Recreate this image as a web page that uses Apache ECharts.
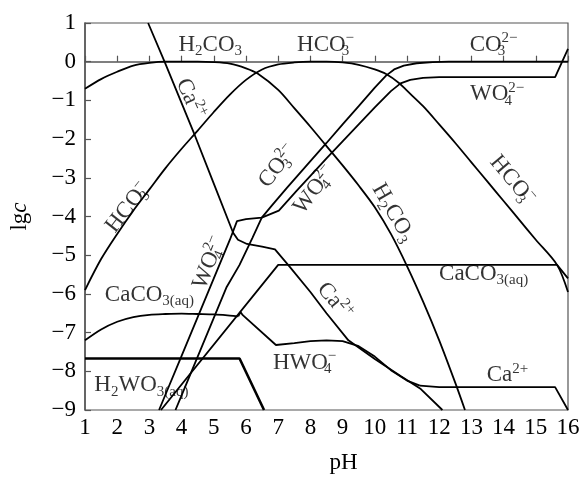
<!DOCTYPE html>
<html>
<head>
<meta charset="utf-8">
<script src="https://cdn.jsdelivr.net/npm/echarts@6/dist/echarts.min.js"></script>
<style>
  html, body { margin: 0; padding: 0; background: #fff; }
  #chart { width: 584px; height: 479px; }
</style>
</head>
<body>
<div id="chart"></div>
<script>
// Axis ticks
const phTicks = [1, 2, 3, 4, 5, 6, 7, 8, 9, 10, 11, 12, 13, 14, 15, 16];
const lgTicks = [-9, -8, -7, -6, -5, -4, -3, -2, -1, 0, 1];

// Species curves: [pH, lg c]
const h2co3 = [[1,-0.7],[1.5,-0.45],[2,-0.26],[2.5,-0.1],[3,-0.03],[3.5,0],[4.5,0],[5,-0.01],[5.5,-0.05],[6,-0.17],[6.35,-0.3],[7,-0.73],[7.5,-1.2],[8,-1.68],[8.5,-2.18],[9,-2.68],[9.5,-3.2],[10,-3.76],[10.5,-4.45],[11,-5.28],[11.5,-6.2],[12,-7.2],[12.5,-8.3],[12.8,-9]];
const hco3 = [[1,-5.9],[1.5,-5.1],[2,-4.45],[2.5,-3.85],[3,-3.3],[3.5,-2.75],[4,-2.25],[4.5,-1.78],[5,-1.3],[5.5,-0.85],[6,-0.47],[6.5,-0.2],[7,-0.07],[7.5,-0.02],[8,0],[8.5,0],[9,-0.02],[9.5,-0.08],[10,-0.2],[10.35,-0.32],[10.75,-0.55],[11,-0.75],[11.5,-1.15],[12,-1.62],[12.5,-2.1],[13,-2.6],[13.5,-3.1],[14,-3.6],[14.5,-4.1],[15,-4.6],[15.66,-5.25],[16,-5.95]];
const co3 = [[3.3,-9],[3.5,-8.6],[4,-7.6],[4.5,-6.6],[5,-5.6],[5.5,-4.6],[5.72,-4.12],[6,-4.07],[6.49,-4.03],[6.8,-3.72],[7.27,-3.26],[8,-2.57],[8.5,-2.1],[9,-1.62],[9.5,-1.15],[10,-0.67],[10.35,-0.36],[10.6,-0.2],[10.9,-0.1],[11.3,-0.04],[11.8,-0.01],[12.3,0],[16,0]];
const wo4 = [[3.81,-9],[4,-8.62],[4.5,-7.62],[5,-6.62],[5.4,-5.82],[5.8,-5.25],[6.2,-4.55],[6.49,-4.03],[7.02,-3.85],[7.57,-3.34],[8,-2.95],[8.5,-2.5],[9,-2.06],[9.5,-1.62],[10,-1.18],[10.5,-0.76],[10.8,-0.56],[11.1,-0.47],[11.5,-0.42],[12,-0.4],[15.6,-0.4],[16,0.33]];
const ca = [[2.96,1],[3.47,0],[4.4,-1.88],[5,-3.15],[5.6,-4.42],[5.75,-4.6],[6.03,-4.71],[6.5,-4.78],[6.9,-4.85],[7.36,-5.3],[8,-5.95],[8.5,-6.5],[9.18,-7.2],[10,-7.68],[10.8,-8.12],[11.43,-8.46],[12.1,-9]];
const caHigh = [[11.4,-8.37],[12,-8.41],[15.6,-8.41],[16,-9]];
const hwo4 = [[5.76,-6.58],[5.83,-6.47],[5.9,-6.55],[6.93,-7.32],[7.5,-7.27],[8,-7.22],[8.5,-7.2],[9,-7.22],[9.5,-7.35],[10,-7.62],[10.5,-7.97],[11,-8.24],[11.4,-8.37]];
const caco3Low = [[1,-7.2],[1.5,-6.92],[2,-6.72],[2.5,-6.6],[3,-6.54],[3.5,-6.52],[4,-6.51],[4.5,-6.52],[5,-6.53],[5.5,-6.56],[5.76,-6.58]];
const caco3High = [[3.36,-9],[7,-5.25],[15.66,-5.25],[16,-5.6]];
const h2wo3 = [[1,-7.67],[5.8,-7.67],[6.56,-9]];

// Curve labels: anchor [pH, lg c], rich text, rotation (deg)
const labelAnchors = [
  [[4.89, 0.44], 'H{b|2}CO{b|3}', 0],
  [[8.47, 0.44], 'HCO{s|3}{p|−}', 0],
  [[13.69, 0.44], 'CO{s|3}{p|2−}', 0],
  [[13.8, -0.84], 'WO{s|4}{p|2−}', 0],
  [[4.27, -0.96], 'Ca{p|2+}', -66],
  [[2.33, -3.77], 'HCO{s|3}{p|−}', 52],
  [[6.99, -2.7], 'CO{s|3}{p|2−}', 52],
  [[8.13, -3.31], 'WO{s|4}{p|2−}', 52],
  [[10.57, -3.9], 'H{b|2}CO{b|3}', -60],
  [[14.27, -3.06], 'HCO{s|3}{p|−}', -50],
  [[4.86, -5.2], 'WO{s|4}{p|2−}', 68],
  [[3.0, -6.02], 'CaCO{b|3(aq)}', 0],
  [[13.38, -5.48], 'CaCO{b|3(aq)}', 0],
  [[8.75, -6.19], 'Ca{p|2+}', -50],
  [[7.82, -7.78], 'HWO{s|4}{p|−}', 0],
  [[2.75, -8.36], 'H{b|2}WO{b|3(aq)}', 0],
  [[14.12, -8.1], 'Ca{p|2+}', 0]
];

const serif = '"Liberation Serif", "Times New Roman", serif';
const rich = {
  t: { fontFamily: serif, fontSize: 23, lineHeight: 28, color: '#000' },
  b: { fontFamily: serif, fontSize: 15, lineHeight: 15, padding: [13, 0, 0, 0], color: '#000' },
  s: { fontFamily: serif, fontSize: 15, lineHeight: 15, padding: [13, 0, 0, 0], width: 0, color: '#000' },
  p: { fontFamily: serif, fontSize: 15, lineHeight: 15, padding: [0, 0, 13, 0], color: '#000' }
};

function wrapText(s) {
  // plain runs go into the base style
  return s.replace(/(^|\})([^{}]+)(?=\{|$)/g, (m, a, b) => a + '{t|' + b + '}');
}

function curve(data, width, smooth) {
  return {
    type: 'line', data: data, showSymbol: false, silent: true,
    smooth: smooth ? 0.3 : false,
    lineStyle: { color: '#000', width: width || 1.8 },
    z: 3
  };
}

const chart = echarts.init(document.getElementById('chart'), null, { renderer: 'canvas' });
chart.setOption({
  animation: false,
  backgroundColor: '#fff',
  grid: { left: 82, right: 16, top: 23, bottom: 64, show: true, borderColor: '#555', borderWidth: 1.2 },
  xAxis: {
    type: 'value', min: phTicks[0], max: phTicks[phTicks.length - 1], interval: 1,
    name: 'pH', nameLocation: 'middle', nameGap: 41,
    nameTextStyle: { fontFamily: serif, fontSize: 23, color: '#000', padding: [0, 0, 0, 34] },
    axisLine: { lineStyle: { color: '#555', width: 1.5 } },
    axisTick: { inside: true, length: 6, lineStyle: { color: '#555', width: 1.2 } },
    axisLabel: { fontFamily: serif, fontSize: 23, color: '#000', margin: 6,
      formatter: v => phTicks.includes(v) ? String(v) : '' },
    splitLine: { show: false }
  },
  yAxis: {
    type: 'value', min: lgTicks[0], max: lgTicks[lgTicks.length - 1], interval: 1,
    name: '{n|lg}{i|c}', nameLocation: 'middle', nameGap: 54, nameRotate: 90,
    nameTextStyle: { rich: {
      n: { fontFamily: serif, fontSize: 23, color: '#000' },
      i: { fontFamily: serif, fontSize: 23, fontStyle: 'italic', color: '#000' } } },
    axisLine: { lineStyle: { color: '#555', width: 1.5 } },
    axisTick: { inside: true, length: 6, lineStyle: { color: '#555', width: 1.2 } },
    axisLabel: { fontFamily: serif, fontSize: 23, color: '#000', margin: 9,
      formatter: v => lgTicks.includes(v) ? String(v).replace('-', '\u2212') : '' },
    splitLine: { show: false }
  },
  series: [
    curve(h2co3, 1.8, true),
    curve(hco3, 1.8, true),
    curve(co3, 1.8, false),
    curve(wo4, 1.8, false),
    curve(ca, 1.8, false),
    curve(caHigh, 1.8, false),
    curve(hwo4, 1.8, false),
    curve(caco3Low, 1.8, true),
    curve(caco3High, 1.8, false),
    curve(h2wo3, 2.6, false),
    {
      type: 'scatter', symbolSize: 0, silent: true, z: 5,
      data: labelAnchors.map(([pos, txt, rot]) => ({
        value: pos,
        label: { show: true, position: 'inside', rotate: rot, formatter: wrapText(txt), rich: rich }
      }))
    }
  ]
});
</script>
</body>
</html>
